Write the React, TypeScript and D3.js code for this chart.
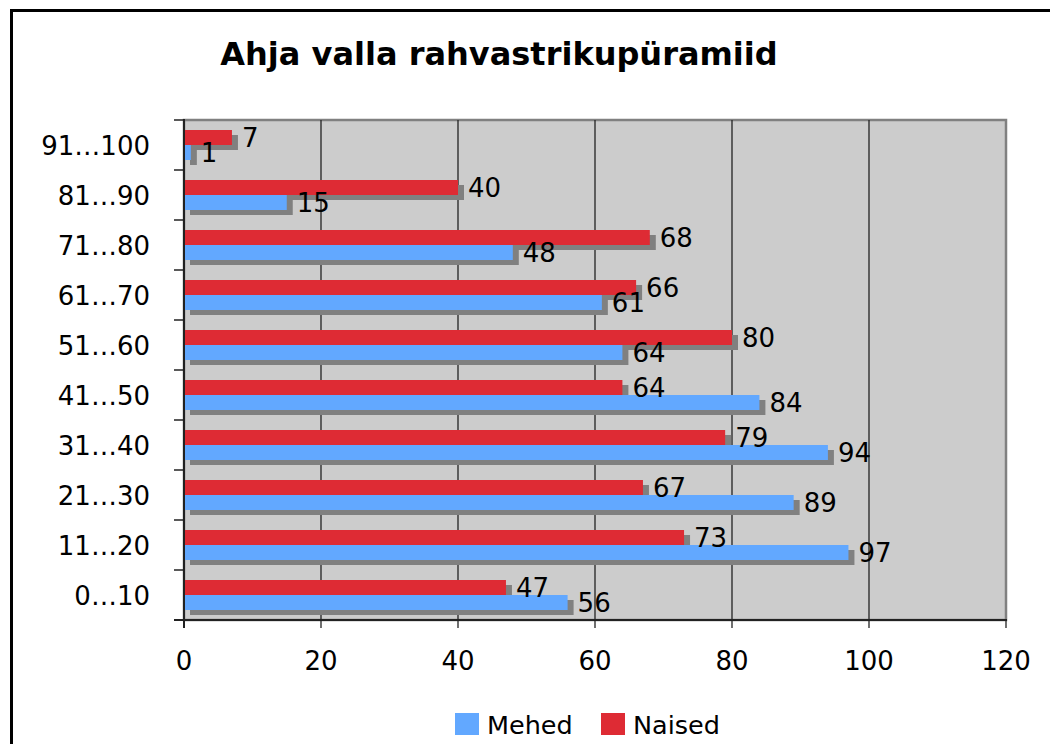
import React, { useRef, useEffect } from 'react';
import * as d3 from 'd3';

const categories = ['0…10', '11…20', '21…30', '31…40', '41…50', '51…60', '61…70', '71…80', '81…90', '91…100'];
const mehed = [56, 97, 89, 94, 84, 64, 61, 48, 15, 1];
const naised = [47, 73, 67, 79, 64, 80, 66, 68, 40, 7];
const xTicks = [0, 20, 40, 60, 80, 100, 120];
const seriesNames = ['Naised', 'Mehed'];
const legendNames = ['Mehed', 'Naised'];

const colors: Record<string, string> = { Mehed: '#62a8ff', Naised: '#de2b34' };
const font = '"DejaVu Sans", Verdana, sans-serif';

const W = 1050;
const H = 744;
const plot = { left: 184, right: 1006, top: 120, bottom: 620 };

const App: React.FC = () => {
    const ref = useRef<SVGSVGElement>(null);

    useEffect(() => {
        if (!ref.current) return;
        const svg = d3.select(ref.current);
        svg.selectAll('*').remove();

        const x = d3.scaleLinear().domain([0, 120]).range([plot.left, plot.right]);
        const y = d3.scaleBand()
            .domain([...categories].reverse())
            .range([plot.top, plot.bottom])
            .padding(0);
        const sub = d3.scaleBand()
            .domain(seriesNames)
            .range([0, y.bandwidth()])
            .paddingInner(0)
            .paddingOuter(2 / 3);

        // outer frame
        svg.append('rect')
            .attr('x', 11.5).attr('y', 10.5)
            .attr('width', W + 20).attr('height', H + 20)
            .attr('fill', 'white')
            .attr('stroke', 'black')
            .attr('stroke-width', 3);

        // title
        svg.append('text')
            .attr('x', 499).attr('y', 65)
            .attr('text-anchor', 'middle')
            .attr('font-family', font)
            .attr('font-weight', 'bold')
            .attr('font-size', 32)
            .text('Ahja valla rahvastrikupüramiid');

        // plot area
        svg.append('rect')
            .attr('x', plot.left).attr('y', plot.top)
            .attr('width', plot.right - plot.left).attr('height', plot.bottom - plot.top)
            .attr('fill', '#cccccc')
            .attr('stroke', '#808080')
            .attr('stroke-width', 2.5);

        // gridlines
        svg.append('g')
            .selectAll('line')
            .data(xTicks.slice(1, -1))
            .enter()
            .append('line')
            .attr('x1', d => x(d)).attr('x2', d => x(d))
            .attr('y1', plot.top).attr('y2', plot.bottom)
            .attr('stroke', '#222')
            .attr('stroke-width', 1.3);

        const rows = categories.map((c, i) => ({ cat: c, Mehed: mehed[i], Naised: naised[i] }));
        const bars = rows.flatMap(r => seriesNames.map(s => ({ cat: r.cat, series: s, value: (r as any)[s] as number })));

        const dx = 6;
        const dy = 5;
        const bh = sub.bandwidth();

        // shadows
        svg.append('g')
            .selectAll('rect')
            .data(bars)
            .enter()
            .append('rect')
            .attr('x', x(0) + dx)
            .attr('y', d => y(d.cat)! + sub(d.series)! + dy)
            .attr('width', d => x(d.value) - x(0))
            .attr('height', bh)
            .attr('fill', '#808080');

        svg.append('g')
            .selectAll('rect')
            .data(bars)
            .enter()
            .append('rect')
            .attr('x', x(0))
            .attr('y', d => y(d.cat)! + sub(d.series)!)
            .attr('width', d => x(d.value) - x(0))
            .attr('height', bh)
            .attr('fill', d => colors[d.series]);

        // value labels
        svg.append('g')
            .selectAll('text')
            .data(bars)
            .enter()
            .append('text')
            .attr('x', d => x(d.value) + 10)
            .attr('y', d => y(d.cat)! + sub(d.series)! + bh + 2)
            .attr('font-family', font)
            .attr('font-size', 26)
            .attr('fill', 'black')
            .text(d => d.value);

        // axes lines
        svg.append('line')
            .attr('x1', plot.left).attr('x2', plot.left)
            .attr('y1', plot.top - 1).attr('y2', plot.bottom + 8)
            .attr('stroke', '#222').attr('stroke-width', 2);
        svg.append('line')
            .attr('x1', plot.left - 10).attr('x2', plot.right + 1)
            .attr('y1', plot.bottom).attr('y2', plot.bottom)
            .attr('stroke', '#222').attr('stroke-width', 2);

        // y ticks at band boundaries
        const bounds = y.domain().map(c => y(c)!);
        bounds.push(plot.bottom);
        svg.append('g')
            .selectAll('line')
            .data(bounds)
            .enter()
            .append('line')
            .attr('x1', plot.left - 10).attr('x2', plot.left)
            .attr('y1', d => d).attr('y2', d => d)
            .attr('stroke', '#222').attr('stroke-width', 1.5);

        svg.append('g')
            .selectAll('text')
            .data(categories)
            .enter()
            .append('text')
            .attr('x', 150)
            .attr('y', d => y(d)! + y.bandwidth() / 2 + 10)
            .attr('text-anchor', 'end')
            .attr('font-family', font)
            .attr('font-size', 26)
            .text(d => d);

        // x ticks
        svg.append('g')
            .selectAll('line')
            .data(xTicks)
            .enter()
            .append('line')
            .attr('x1', d => x(d)).attr('x2', d => x(d))
            .attr('y1', plot.bottom).attr('y2', plot.bottom + 8)
            .attr('stroke', '#222').attr('stroke-width', 1.3);

        svg.append('g')
            .selectAll('text')
            .data(xTicks)
            .enter()
            .append('text')
            .attr('x', d => x(d))
            .attr('y', 670)
            .attr('text-anchor', 'middle')
            .attr('font-family', font)
            .attr('font-size', 26)
            .text(d => d);

        // legend
        const legendX = [455, 601];
        const lg = svg.append('g')
            .selectAll('g')
            .data(legendNames)
            .enter()
            .append('g')
            .attr('transform', (_d, i) => `translate(${legendX[i]}, 713)`);
        lg.append('rect')
            .attr('width', 24).attr('height', 22)
            .attr('fill', d => colors[d]);
        lg.append('text')
            .attr('x', 32).attr('y', 21)
            .attr('font-family', font)
            .attr('font-size', 25.5)
            .text(d => d);
    }, []);

    return (
        <svg
            ref={ref}
            width={W}
            height={H}
            style={{ position: 'absolute', left: 0, top: 0, background: 'white' }}
        />
    );
};

export default App;
